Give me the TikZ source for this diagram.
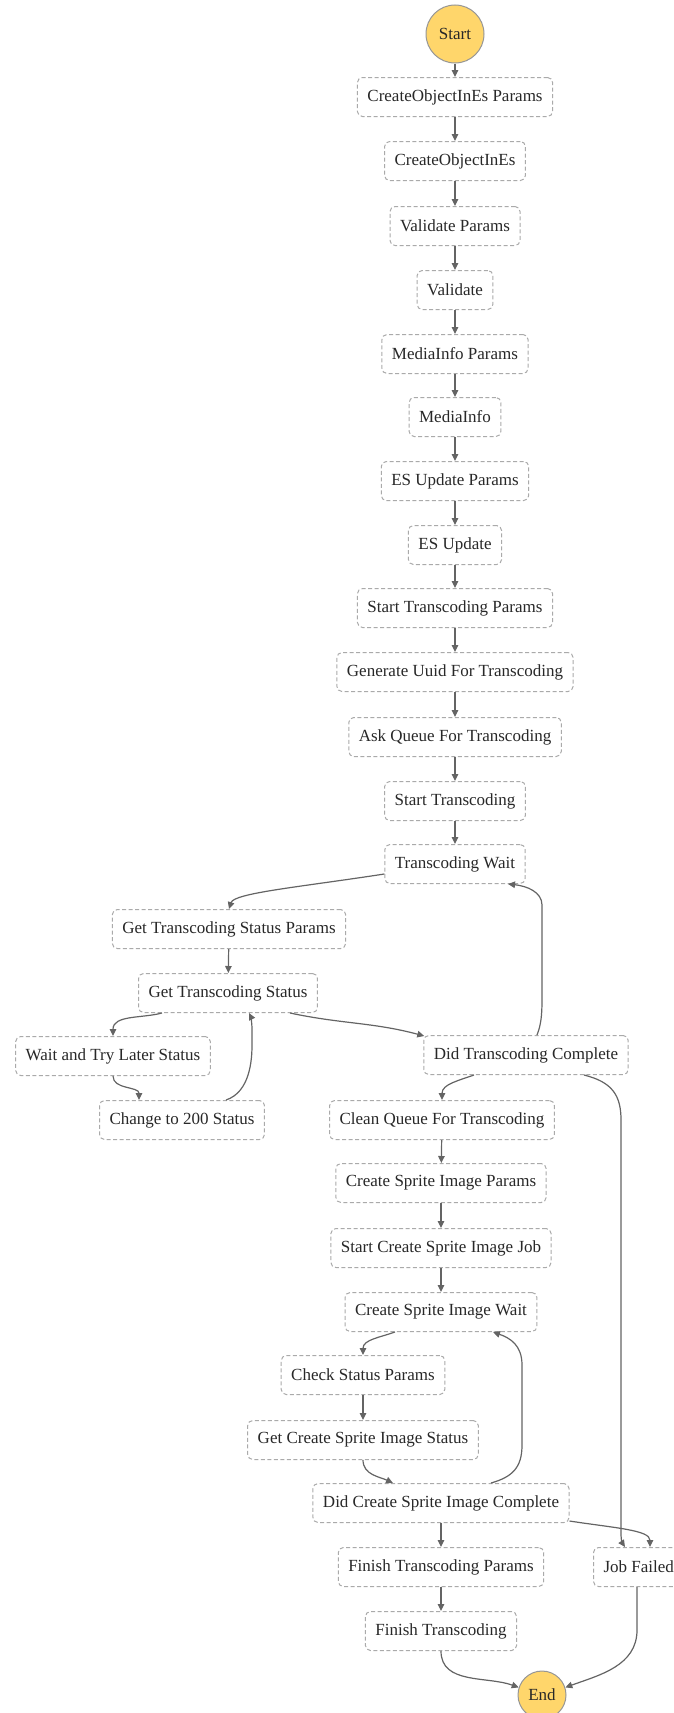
\documentclass[tikz,border=0pt]{standalone}
\usepackage{fontspec}
\setmainfont{Liberation Serif}
\usetikzlibrary{arrows.meta}
\definecolor{boxline}{RGB}{170,170,170}
\definecolor{arrowc}{RGB}{100,100,100}
\definecolor{txt}{RGB}{40,40,40}
\definecolor{termfill}{RGB}{255,214,107}
\definecolor{termline}{RGB}{150,150,150}
\tikzset{
  stbox/.style={draw=boxline, line width=1pt, dash pattern=on 4pt off 2.5pt, rounded corners=5pt,
    fill=white, minimum height=39pt, inner xsep=10pt, inner ysep=0pt, text=txt,
    font=\fontsize{17}{20}\selectfont},
  term/.style={circle, draw=termline, line width=1pt, fill=termfill, text=txt, inner sep=0pt,
    font=\fontsize{17}{20}\selectfont},
  conn/.style={draw=arrowc, line width=1.2pt, -{Triangle[length=7pt,width=6.5pt]}},
}
\begin{document}
\begin{tikzpicture}[x=1pt,y=1pt]
\useasboundingbox (0,0) rectangle (674,-1713);
\clip (0,0) rectangle (674,-1713);
\node[term, minimum size=58pt] (start) at (455,-34) {Start};
\node[stbox] (p1) at (455,-97) {CreateObjectInEs Params};
\node[stbox] (p2) at (455,-161) {CreateObjectInEs};
\node[stbox] (p3) at (455,-226) {Validate Params};
\node[stbox] (p4) at (455,-290) {Validate};
\node[stbox] (p5) at (455,-354) {MediaInfo Params};
\node[stbox] (p6) at (455,-417) {MediaInfo};
\node[stbox] (p7) at (455,-481) {ES Update Params};
\node[stbox] (p8) at (455,-545) {ES Update};
\node[stbox] (p9) at (455,-608) {Start Transcoding Params};
\node[stbox] (p10) at (455,-672) {Generate Uuid For Transcoding};
\node[stbox] (p11) at (455,-737) {Ask Queue For Transcoding};
\node[stbox] (p12) at (455,-801) {Start Transcoding};
\node[stbox] (tw) at (455,-864) {Transcoding Wait};
\node[stbox] (gtsp) at (229,-929) {Get Transcoding Status Params};
\node[stbox] (gts) at (228,-993) {Get Transcoding Status};
\node[stbox] (wtl) at (113,-1056) {Wait and Try Later Status};
\node[stbox] (dtc) at (526,-1055) {Did Transcoding Complete};
\node[stbox] (c200) at (182,-1120) {Change to 200 Status};
\node[stbox] (cq) at (442,-1120) {Clean Queue For Transcoding};
\node[stbox] (csip) at (441,-1183) {Create Sprite Image Params};
\node[stbox] (scsij) at (441,-1248) {Start Create Sprite Image Job};
\node[stbox] (csiw) at (441,-1312) {Create Sprite Image Wait};
\node[stbox] (csp) at (363,-1375) {Check Status Params};
\node[stbox] (gcsis) at (363,-1440) {Get Create Sprite Image Status};
\node[stbox] (dcsic) at (441,-1503) {Did Create Sprite Image Complete};
\node[stbox] (ftp) at (441,-1567) {Finish Transcoding Params};
\node[stbox, anchor=west] (jf) at (593,-1567) {Job Failed};
\node[stbox] (ft) at (441,-1631) {Finish Transcoding};
\node[term, minimum size=48pt] (end) at (542,-1695) {End};
% straight chain
\foreach \a/\b in {start/p1,p1/p2,p2/p3,p3/p4,p4/p5,p5/p6,p6/p7,p7/p8,p8/p9,p9/p10,p10/p11,p11/p12,p12/tw,
  gtsp/gts,cq/csip,csip/scsij,scsij/csiw,csp/gcsis,dcsic/ftp,ftp/ft}
  \draw[conn] (\a) -- (\b);
% curves
\draw[conn] ([yshift=10pt]tw.south west) .. controls (300,-887) and (234,-893) .. (gtsp.north);
\draw[conn] ([xshift=-66pt]gts.south) to[out=195,in=90] (wtl.north);
\draw[conn] ([xshift=62pt]gts.south) to[out=-12,in=165] ([xshift=1pt,yshift=-1pt]dtc.north west);
\draw[conn] (wtl.south) to[out=-90,in=90] ([xshift=-43pt]c200.north);
\draw[conn] ([xshift=44pt]c200.north) .. controls (250,-1092) and (252,-1060) .. (252,-1045) -- (252,-1030) .. controls (252,-1020) and (250,-1015) .. ([xshift=21pt]gts.south);
\draw[conn] ([xshift=11pt]dtc.north) .. controls (541,-1025) and (542,-1015) .. (542,-1000) -- (542,-905) .. controls (542,-892) and (527,-886) .. ([xshift=53pt]tw.south);
\draw[conn] ([xshift=-52pt]dtc.south) to[out=200,in=90] (cq.north);
\draw[conn] ([xshift=58pt]dtc.south) .. controls (612,-1082) and (621,-1095) .. (621,-1120) -- (621,-1535) .. controls (621,-1541) and (623,-1544) .. ([xshift=32pt]jf.north west);
\draw[conn] ([xshift=-46pt]csiw.south) to[out=200,in=90] (csp.north);
\draw[conn] (gcsis.south) to[out=-90,in=155] ([xshift=-48pt]dcsic.north);
\draw[conn] ([xshift=50pt]dcsic.north) .. controls (512,-1477) and (522,-1468) .. (522,-1445) -- (522,-1365) .. controls (522,-1345) and (510,-1338) .. ([xshift=52pt]csiw.south);
\draw[conn] ([yshift=2pt]dcsic.south east) .. controls (615,-1528) and (650,-1530) .. ([xshift=57pt]jf.north west);
\draw[conn] (ft.south) to[out=-90,in=160] (end.162);
\draw[conn] ([xshift=44pt]jf.south west) -- (637,-1630) to[out=-90,in=20] (end.18);
\end{tikzpicture}
\end{document}
